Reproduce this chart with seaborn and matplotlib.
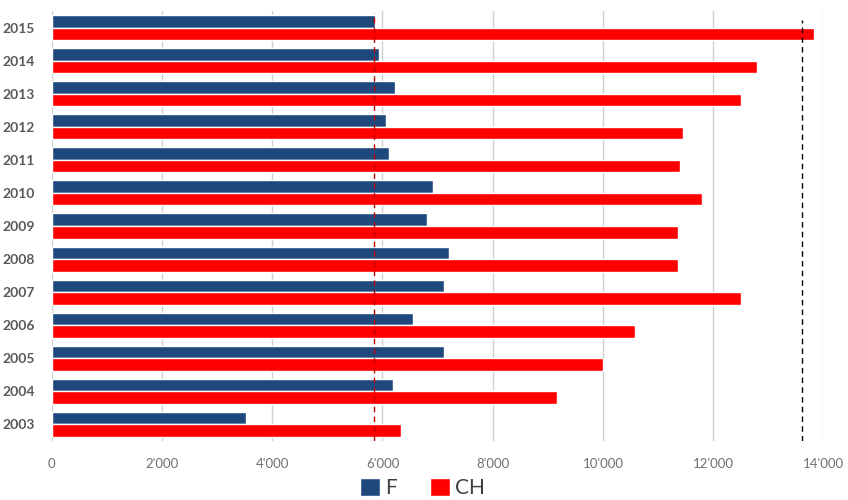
import matplotlib
matplotlib.use("Agg")
import matplotlib.pyplot as plt
import matplotlib.ticker as mticker
import seaborn as sns
import pandas as pd

years = [2015, 2014, 2013, 2012, 2011, 2010, 2009, 2008, 2007, 2006, 2005, 2004, 2003]
f_values = [5870, 5940, 6230, 6060, 6120, 6910, 6800, 7200, 7110, 6560, 7110, 6190, 3520]
ch_values = [13830, 12790, 12500, 11450, 11400, 11800, 11360, 11360, 12500, 10590, 10000, 9160, 6340]
series_names = ["F", "CH"]
ref_red = 5850
ref_black = 13620
x_ticks = [0, 2000, 4000, 6000, 8000, 10000, 12000, 14000]

df = pd.DataFrame({
    "year": [str(y) for y in years] * 2,
    "value": f_values + ch_values,
    "series": ["F"] * len(years) + ["CH"] * len(years),
})

sns.set_theme(style="white")
plt.rcParams["font.family"] = ["Lato", "DejaVu Sans"]

fig = plt.figure(figsize=(8.48, 5.0), dpi=100)
ax = fig.add_axes([0.061, 0.118, 0.910, 0.860])

sns.barplot(data=df, x="value", y="year", hue="series", order=[str(y) for y in years],
            hue_order=series_names, palette={"F": "#1F497D", "CH": "#FF0000"},
            width=0.76, orient="h", saturation=1, ax=ax, zorder=3)

ax.set_xlim(0, 14000)
ax.set_ylim(12.5, -0.5)
ax.set_xticks(x_ticks)
ax.xaxis.set_major_formatter(mticker.FuncFormatter(lambda v, p: f"{int(v):,}".replace(",", "'")))
ax.grid(axis="x", color="#D0D0D0", linewidth=1.0, zorder=0)
ax.grid(axis="y", visible=False)
for s in ax.spines.values():
    s.set_visible(False)
ax.set_xlabel("")
ax.set_ylabel("")
ax.tick_params(axis="x", length=0, pad=12, labelsize=9.5, labelcolor="#707070")
ax.tick_params(axis="y", length=0, pad=12, labelsize=10, labelcolor="#595959")
for t in ax.get_yticklabels():
    t.set_fontweight("bold")

ax.axvline(ref_red, ymin=0.0, ymax=0.995, color="#C00000", linestyle=(0, (4, 3)), linewidth=1.0, zorder=4)
ax.axvline(ref_black, ymin=0.0, ymax=0.98, color="#000000", linestyle=(0, (4, 3)), linewidth=1.0, zorder=4)

handles, labels = ax.get_legend_handles_labels()
ax.get_legend().remove()
fig.legend(handles, labels, loc="center", bbox_to_anchor=(0.498, 0.024), ncol=2,
           frameon=False, fontsize=15, handlelength=0.95, handleheight=0.95,
           handletextpad=0.25, columnspacing=1.6, labelcolor="#404040", borderpad=0.1)

fig.savefig("out.png", dpi=100)
